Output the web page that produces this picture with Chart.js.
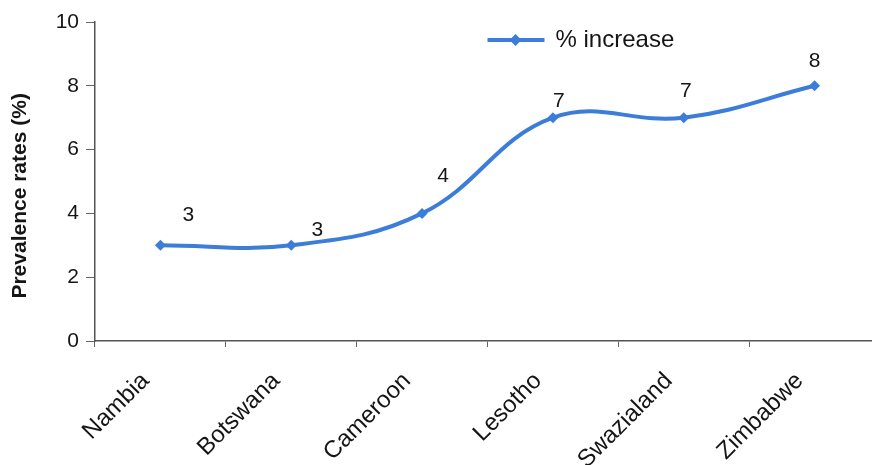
<!DOCTYPE html>
<html>
<head>
<meta charset="utf-8">
<script src="https://cdn.jsdelivr.net/npm/chart.js@4.4.1/dist/chart.umd.min.js"></script>
<style>
  html, body { margin: 0; padding: 0; background: #fff; overflow: hidden; }
</style>
</head>
<body>
<canvas id="myChart" width="890" height="465"></canvas>
<script>
var countries = ['Nambia', 'Botswana', 'Cameroon', 'Lesotho', 'Swazialand', 'Zimbabwe'];
var increase = [3, 3, 4, 7, 7, 8];
var yTicks = [0, 2, 4, 6, 8, 10];
var seriesName = '% increase';
var yTitle = 'Prevalence rates (%)';

// where each value label sits relative to its point (px)
var labelShift = [[28, -30], [26, -15], [21, -37], [6, -16], [2, -26], [0, -25]];

var blue = '#3b7dd8';
var textColor = '#151515';
var fontFamily = 'Arial, "Liberation Sans", sans-serif';

// value labels, legend and the y title
var extras = {
    id: 'extras',
    afterDatasetsDraw: function (chart) {
        var c = chart.ctx;
        var area = chart.chartArea;
        var meta = chart.getDatasetMeta(0);

        c.save();
        c.fillStyle = textColor;
        c.font = '21px ' + fontFamily;
        c.textAlign = 'center';
        c.textBaseline = 'middle';
        meta.data.forEach(function (pt, i) {
            c.fillText(String(increase[i]), pt.x + labelShift[i][0], pt.y + labelShift[i][1]);
        });

        // legend
        var lx = area.left + area.width * 0.5;
        var ly = area.top + 18;
        c.strokeStyle = blue;
        c.lineWidth = 4;
        c.beginPath();
        c.moveTo(lx, ly);
        c.lineTo(lx + 57, ly);
        c.stroke();
        c.fillStyle = blue;
        c.beginPath();
        c.moveTo(lx + 28, ly - 6);
        c.lineTo(lx + 34, ly);
        c.lineTo(lx + 28, ly + 6);
        c.lineTo(lx + 22, ly);
        c.closePath();
        c.fill();
        c.fillStyle = textColor;
        c.font = '24px ' + fontFamily;
        c.textAlign = 'left';
        c.fillText(seriesName, lx + 68, ly);

        // y axis title
        c.translate(20, area.top + area.height * 0.545);
        c.rotate(-Math.PI / 2);
        c.font = 'bold 21px ' + fontFamily;
        c.textAlign = 'center';
        c.fillText(yTitle, 0, 0);
        c.restore();
    }
};

const ctx = document.getElementById('myChart');

new Chart(ctx, {
    type: 'line',
    data: {
        labels: countries,
        datasets: [{
            label: seriesName,
            data: increase,
            borderColor: blue,
            backgroundColor: blue,
            borderWidth: 4,
            tension: 0.4,
            pointStyle: 'rectRot',
            pointRadius: 5.5,
            pointBackgroundColor: blue,
            pointBorderWidth: 0
        }]
    },
    options: {
        responsive: false,
        animation: false,
        events: [],
        layout: {
            padding: { top: 22, right: 10, left: 0, bottom: 0 }
        },
        plugins: {
            legend: { display: false },
            tooltip: { enabled: false }
        },
        scales: {
            x: {
                offset: true,
                grid: {
                    offset: true,
                    drawOnChartArea: false,
                    tickLength: 6,
                    color: '#666'
                },
                border: { color: '#555', width: 1.5 },
                ticks: {
                    minRotation: 45,
                    maxRotation: 45,
                    color: textColor,
                    padding: 20,
                    labelOffset: -15,
                    font: { size: 24, family: fontFamily }
                },
                afterFit: function (scale) { scale.height = 124; }
            },
            y: {
                min: 0,
                max: 10,
                afterBuildTicks: function (scale) {
                    scale.ticks = yTicks.map(function (v) { return { value: v }; });
                },
                grid: {
                    drawOnChartArea: false,
                    tickLength: 9,
                    color: '#666'
                },
                border: { color: '#555', width: 1.5 },
                ticks: {
                    color: textColor,
                    padding: 7,
                    font: { size: 21, family: fontFamily }
                },
                afterFit: function (scale) { scale.width = 95; }
            }
        }
    },
    plugins: [extras]
});
</script>
</body>
</html>
